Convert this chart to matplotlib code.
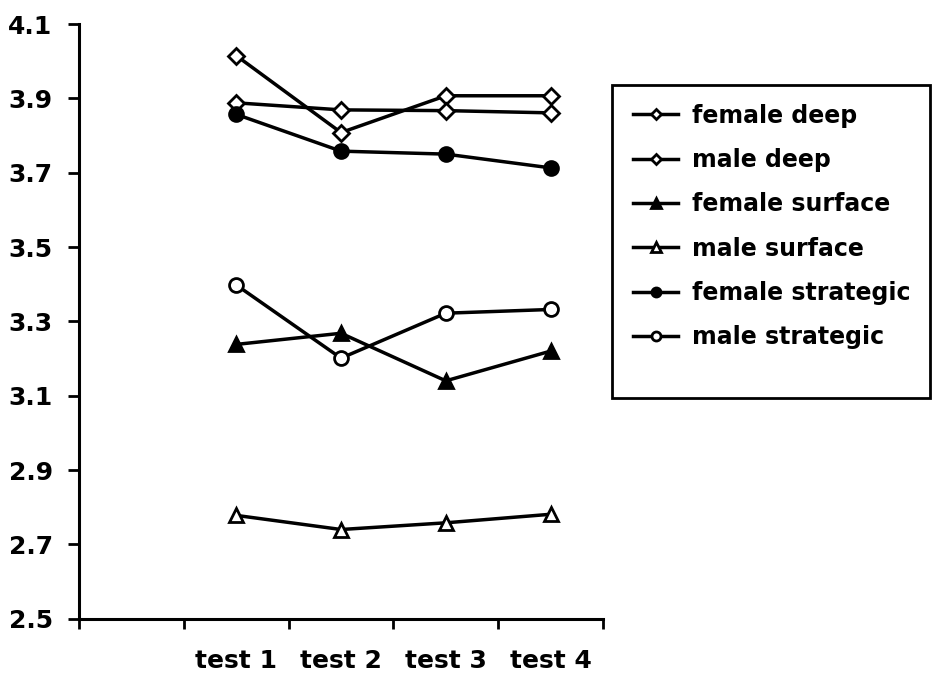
import matplotlib
matplotlib.use("Agg")
import matplotlib.pyplot as plt
from matplotlib.patches import Rectangle
import numpy as np

plt.rcParams["font.family"] = ["DejaVu Sans"]
plt.rcParams["font.weight"] = "bold"

# Data
categories = ["", "test 1", "test 2", "test 3", "test 4"]
female_deep = [4.015, 3.808, 3.907, 3.907]
male_deep = [3.888, 3.869, 3.867, 3.861]
female_surface = [3.238, 3.268, 3.140, 3.220]
male_surface = [2.778, 2.740, 2.758, 2.781]
female_strategic = [3.857, 3.758, 3.750, 3.713]
male_strategic = [3.398, 3.201, 3.322, 3.332]

series = [
    ("female deep", female_deep, "D", "white", 8.5),
    ("male deep", male_deep, "D", "white", 8.5),
    ("female surface", female_surface, "^", "black", 10),
    ("male surface", male_surface, "^", "white", 10),
    ("female strategic", female_strategic, "o", "black", 10),
    ("male strategic", male_strategic, "o", "white", 10),
]

fig = plt.figure(figsize=(9.33, 6.75), dpi=100)
ax = fig.add_axes([0.0847, 0.0834, 0.5616, 0.881])

x = np.arange(len(categories))[1:]
for name, vals, mk, fc, ms in series:
    ax.plot(x, vals, color="black", lw=2.5, marker=mk, markersize=ms,
            markerfacecolor=fc, markeredgecolor="black", markeredgewidth=2,
            label=name)

ax.set_xlim(-0.5, len(categories) - 0.5)
ax.set_ylim(2.5, 4.1)
yt = np.arange(2.5, 4.11, 0.2)
ax.set_yticks(yt)
ax.set_yticklabels([f"{v:.1f}" for v in yt], fontsize=18, fontweight="bold")
ax.set_xticks(np.arange(len(categories)))
ax.set_xticklabels(categories, fontsize=18, fontweight="bold")
ax.set_xticks(np.arange(-0.5, len(categories)), minor=True)

ax.tick_params(axis="x", which="major", length=0, pad=22)
ax.tick_params(axis="x", which="minor", length=7, width=2, direction="out")
ax.tick_params(axis="y", length=8, width=2, direction="out", pad=11)

for s in ["top", "right"]:
    ax.spines[s].set_visible(False)
for s in ["left", "bottom"]:
    ax.spines[s].set_linewidth(2.2)

# Legend with a separate box
fig.patches.append(Rectangle((0.656, 0.410), 0.341, 0.464, transform=fig.transFigure,
                             fill=False, edgecolor="black", lw=2))
fig.legend(loc="upper left", bbox_to_anchor=(0.656, 0.878), frameon=False,
           prop={"weight": "bold", "size": 17},
           handlelength=1.9, handletextpad=0.6, labelspacing=0.86,
           markerscale=0.65)

fig.savefig("out.png", dpi=100)
